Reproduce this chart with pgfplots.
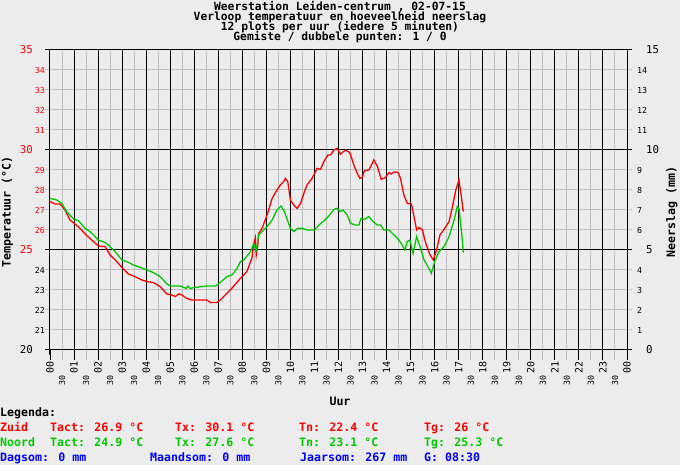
\documentclass[border=0pt]{standalone}
\usepackage{pgfplots}
\pgfplotsset{compat=1.18}
\usepackage{fontspec}
\setmainfont{DejaVu Sans Mono}
\definecolor{bg}{HTML}{ECECEC}
\definecolor{gridgray}{HTML}{BEBEBE}
\definecolor{zuid}{HTML}{FF0000}
\definecolor{noord}{HTML}{00C800}
\definecolor{blauw}{HTML}{0000FF}
\newcommand\fmed{\fontsize{11.6pt}{10pt}\selectfont\bfseries}
\newcommand\ftitle{\fontsize{11.3pt}{10pt}\selectfont\bfseries}
\newcommand\fbig{\fontsize{10.8pt}{11pt}\selectfont}
\newcommand\fsmall{\fontsize{10pt}{10pt}\selectfont}
\newcommand\ftiny{\fontsize{8.3pt}{9pt}\selectfont}
\begin{document}
\begin{tikzpicture}[x=1pt,y=1pt]
\path[fill=bg, use as bounding box] (0,0) rectangle (680,465);
% main axis: grid, left labels, data
\begin{axis}[at={(50pt,115pt)}, anchor=south west, scale only axis, width=577pt, height=300pt,
 xmin=0, xmax=24, ymin=20, ymax=35,
 axis line style={line width=1pt, black},
 tick align=outside, major tick length=5pt,
 xtick pos=left, ytick pos=both, yticklabel pos=left,
 xtick={0.5,1.5,...,23.5}, xticklabels={},
 extra x ticks={0,1,...,24}, extra x tick labels={},
 extra x tick style={major grid style={black,line width=1pt}, major tick style={black,line width=1pt}},
 ytick={21,22,23,24,26,27,28,29,31,32,33,34},
 yticklabels={21,22,23,24,\textcolor{zuid}{26},\textcolor{zuid}{27},\textcolor{zuid}{28},\textcolor{zuid}{29},\textcolor{zuid}{31},\textcolor{zuid}{32},\textcolor{zuid}{33},\textcolor{zuid}{34}},
 yticklabel style={font=\ftiny, inner sep=0pt},
 extra y ticks={20,25,30,35},
 extra y tick labels={20,\textcolor{zuid}{25},\textcolor{zuid}{30},\textcolor{zuid}{35}},
 extra y tick style={major grid style={black,line width=1pt}, major tick style={black,line width=1pt}, yticklabel style={font=\fbig}, yticklabel shift=12pt},
 grid=major, major grid style={gridgray, line width=1pt},
 major tick style={gridgray, line width=1pt},
 /pgf/number format/assume math mode=true,
]
\addplot[zuid, line width=1.3pt] coordinates {
(0,27.42) (0.21,27.3) (0.42,27.3) (0.625,27.0) (0.83,26.5) (1.04,26.3) (1.25,26.08) (1.46,25.8)
(1.81,25.42) (2.01,25.2) (2.29,25.17) (2.5,24.75) (2.78,24.42) (2.99,24.13) (3.26,23.8) (3.54,23.67)
(3.82,23.5) (4.03,23.42) (4.3,23.37) (4.58,23.17) (4.86,22.8) (5.07,22.75) (5.21,22.67) (5.35,22.8)
(5.49,22.75) (5.69,22.58) (5.9,22.5) (6.53,22.5) (6.67,22.37) (6.94,22.37) (7.08,22.5) (7.5,23.0)
(7.92,23.58) (8.19,23.92) (8.40,24.6) (8.47,25.3) (8.54,25.6) (8.58,24.75) (8.64,25.2) (8.68,25.83)
(8.82,26.08) (9.03,26.75) (9.24,27.58) (9.44,28.0) (9.58,28.25) (9.72,28.42) (9.79,28.58) (9.89,28.42)
(10.0,27.5) (10.14,27.25) (10.28,27.08) (10.42,27.33) (10.56,27.83) (10.69,28.25) (10.9,28.58) (11.11,29.08)
(11.25,29.03) (11.39,29.42) (11.56,29.75) (11.67,29.75) (11.81,30.0) (11.94,30.08) (12.08,29.8) (12.29,30.0)
(12.47,29.87) (12.64,29.25) (12.78,28.83) (12.89,28.58) (12.99,28.63) (13.08,28.97) (13.26,29.0) (13.37,29.25)
(13.47,29.5) (13.61,29.2) (13.78,28.53) (13.96,28.63) (14.1,28.87) (14.19,28.8) (14.31,28.9) (14.47,28.88)
(14.58,28.58) (14.72,27.75) (14.86,27.33) (15.03,27.3) (15.14,26.67) (15.25,26.0) (15.35,26.13) (15.49,26.0)
(15.63,25.33) (15.81,24.75) (15.94,24.5) (16.08,25.0) (16.22,25.75) (16.39,26.03) (16.6,26.42) (16.74,27.17)
(16.88,28.0) (17.01,28.5) (17.08,27.92) (17.19,26.92)
};
\addplot[noord, line width=1.3pt] coordinates {
(0,27.58) (0.28,27.5) (0.49,27.33) (0.69,26.92) (1.0,26.53) (1.18,26.47) (1.46,26.08) (1.67,25.92)
(2.01,25.5) (2.29,25.38) (2.5,25.17) (2.71,24.92) (2.99,24.5) (3.19,24.42) (3.47,24.25) (3.75,24.13)
(4.03,24.0) (4.3,23.87) (4.58,23.67) (4.86,23.3) (5.0,23.2) (5.42,23.2) (5.67,23.08) (5.74,23.2)
(5.83,23.08) (6.04,23.13) (6.53,23.2) (6.875,23.2) (7.01,23.3) (7.36,23.67) (7.57,23.75) (7.78,24.08)
(7.92,24.42) (8.06,24.5) (8.33,24.9) (8.47,25.3) (8.58,25.0) (8.68,25.75) (9.03,26.17) (9.24,26.5)
(9.44,27.0) (9.61,27.2) (9.75,26.92) (10.0,26.08) (10.14,25.92) (10.31,26.08) (10.49,26.08) (10.69,26.0)
(11.0,26.0) (11.19,26.25) (11.39,26.45) (11.6,26.7) (11.81,27.03) (11.94,27.08) (12.06,26.92) (12.19,27.0)
(12.36,26.75) (12.5,26.33) (12.71,26.25) (12.85,26.25) (12.94,26.58) (13.08,26.53) (13.26,26.67) (13.44,26.42)
(13.61,26.25) (13.75,26.25) (13.89,26.0) (14.1,26.0) (14.24,25.83) (14.38,25.67) (14.51,25.5) (14.65,25.25)
(14.76,25.0) (14.86,25.42) (14.97,25.5) (15.1,24.83) (15.25,25.67) (15.39,25.17) (15.56,24.5) (15.72,24.17)
(15.86,23.83) (16.0,24.42) (16.18,24.92) (16.39,25.17) (16.6,25.67) (16.81,26.5) (16.94,27.17) (17.01,27.08)
(17.08,26.33) (17.15,25.5) (17.19,24.87)
};
\end{axis}
% second axis: bottom hour ticks/labels and right precipitation labels
\begin{axis}[at={(50pt,115pt)}, anchor=south west, scale only axis, width=577pt, height=300pt,
 xmin=0, xmax=24, ymin=0, ymax=15,
 axis line style={draw=none},
 tick align=outside, major tick length=10pt,
 xtick pos=left, ytick pos=right,
 xtick={0,1,...,24},
 xticklabels={00,01,02,03,04,05,06,07,08,09,10,11,12,13,14,15,16,17,18,19,20,21,22,23,00},
 xticklabel style={rotate=90, anchor=east, font=\fsmall, inner sep=0pt, xshift=1.5pt},
 xticklabel shift=3pt,
 major tick style={black, line width=1pt},
 extra x ticks={0.5,1.5,...,23.5},
 extra x tick labels={30,30,30,30,30,30,30,30,30,30,30,30,30,30,30,30,30,30,30,30,30,30,30,30},
 extra x tick style={major tick style={gridgray,line width=1pt}, xticklabel style={font=\ftiny}, xticklabel shift=17pt},
 ytick={1,2,3,4,6,7,8,9,11,12,13,14},
 yticklabel style={font=\ftiny, inner sep=0pt},
 ytick style={draw=none},
 extra y ticks={0,5,10,15},
 extra y tick style={yticklabel style={font=\fbig}, yticklabel shift=9pt, major tick style={draw=none}},
 /pgf/number format/assume math mode=true,
]
\end{axis}
% titles
\begin{scope}[every node/.style={anchor=base, font=\ftitle, inner sep=0pt}]
\node at (340,454) {Weerstation Leiden-centrum , 02-07-15};
\node at (340,444) {Verloop temperatuur en hoeveelheid neerslag};
\node at (340,434) {12 plots per uur (iedere 5 minuten)};
\node at (340,424) {Gemiste / dubbele punten: 1 / 0};
\end{scope}
\node[rotate=90, font=\fmed] at (7.5,253) {Temperatuur (°C)};
\node[rotate=90, font=\fmed] at (672,253) {Neerslag (mm)};
\node[anchor=base, font=\fmed] at (340,59) {Uur};
% legend
\begin{scope}[every node/.style={anchor=base west, inner sep=0pt, font=\fmed}]
\node at (0,48) {Legenda:};
\node[text=zuid] at (0,33) {Zuid};
\node[text=zuid] at (50,33) {Tact: 26.9 °C};
\node[text=zuid] at (175,33) {Tx: 30.1 °C};
\node[text=zuid] at (299,33) {Tn: 22.4 °C};
\node[text=zuid] at (424,33) {Tg: 26 °C};
\node[text=noord] at (0,18) {Noord};
\node[text=noord] at (50,18) {Tact: 24.9 °C};
\node[text=noord] at (175,18) {Tx: 27.6 °C};
\node[text=noord] at (299,18) {Tn: 23.1 °C};
\node[text=noord] at (424,18) {Tg: 25.3 °C};
\node[text=blauw] at (0,3) {Dagsom: 0 mm};
\node[text=blauw] at (150,3) {Maandsom: 0 mm};
\node[text=blauw] at (300,3) {Jaarsom: 267 mm};
\node[text=blauw] at (424,3) {G: 08:30};
\end{scope}
\end{tikzpicture}
\end{document}
